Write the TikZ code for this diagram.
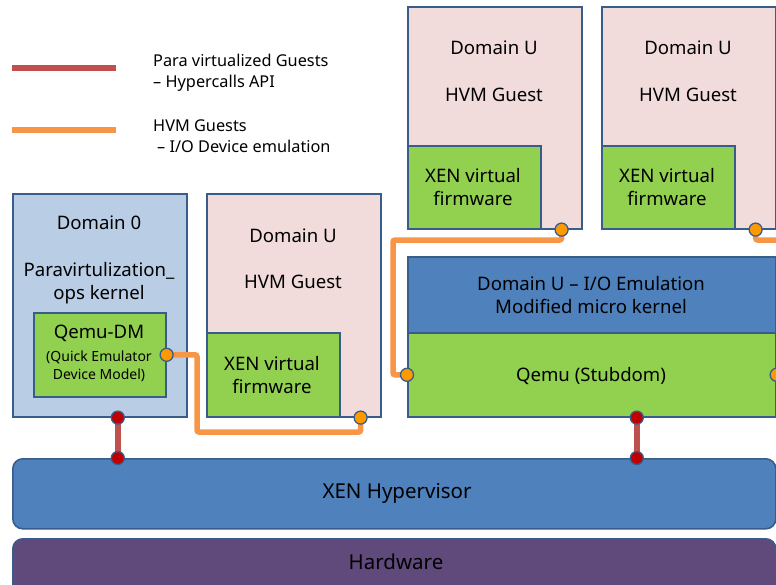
\documentclass[tikz,border=0pt]{standalone}
\usepackage{fontspec}
\setmainfont{Noto Sans}
\usepackage{xcolor}
\usetikzlibrary{positioning}

\definecolor{edgeblue}{HTML}{385D8A}
\definecolor{domzero}{HTML}{B9CDE5}
\definecolor{domguest}{HTML}{F2DCDB}
\definecolor{fwgreen}{HTML}{92D050}
\definecolor{layerblue}{HTML}{4F81BD}
\definecolor{hwpurple}{HTML}{604A7B}
\definecolor{pvred}{HTML}{C0504D}
\definecolor{hvmorange}{HTML}{F79646}
\definecolor{dotred}{HTML}{C00000}
\definecolor{dotorange}{HTML}{FF9900}

\begin{document}
\begin{tikzpicture}[x=1pt,y=-1pt,
		box/.style={draw=edgeblue,line width=1.6pt,anchor=north west,inner sep=0pt},
		lbl/.style={font=\fontsize{18.6}{23}\selectfont,align=center,inner sep=0pt},
		small/.style={font=\fontsize{14}{18}\selectfont,align=center,inner sep=0pt},
		legend/.style={font=\fontsize{16.3}{21}\selectfont,align=left,anchor=west,inner sep=0pt},
		key/.style={minimum width=104pt,minimum height=6pt,inner sep=0pt},
		pvline/.style={draw=pvred,line width=5.5pt},
		hvmline/.style={draw=hvmorange,line width=5.5pt,rounded corners=2pt},
		pvdot/.style={circle,fill=dotred,draw=edgeblue,line width=1.3pt,minimum size=13pt,inner sep=0pt},
		hvmdot/.style={circle,fill=dotorange,draw=edgeblue,line width=1.3pt,minimum size=13pt,inner sep=0pt}]
	\useasboundingbox[fill=white] (0,0) rectangle (776,584);
	\clip (0,0) rectangle (776,584);

	\node[key,fill=pvred] (pvkey) at (64,68) {};
	\node[key,fill=hvmorange] (hvmkey) at (64,130) {};
	\node[legend] (pvtext) at (153,73) {Para virtualized Guests\\– Hypercalls API};
	\node[legend] (hvmtext) at (153,136) {HVM Guests\\\hspace{4pt}– I/O Device emulation};

	\node[box,fill=domzero,minimum width=174pt,minimum height=223pt] (dom0) at (12,193) {};
	\node[box,fill=fwgreen,minimum width=132pt,minimum height=84pt] (qdm) at (33,312) {};
	\node[lbl] (dom0title) at (99,223) {Domain 0};
	\node[lbl] (dom0kern) at (99,283) {Paravirtulization\_\\ops kernel};
	\node[lbl] (qdmtitle) at (99,333) {Qemu-DM};
	\node[small] (qdmsub) at (99,366) {(Quick Emulator\\Device Model)};

	\node[box,fill=domguest,minimum width=174pt,minimum height=223pt] (domu1) at (206,193) {};
	\node[box,fill=fwgreen,minimum width=133pt,minimum height=84pt] (fw1) at (206,332) {};
	\node[lbl] (domu1title) at (293,236) {Domain U};
	\node[lbl] (domu1hvm) at (293,282) {HVM Guest};
	\node[lbl] (fw1text) at (272,375) {XEN virtual\\firmware};

	\node[box,fill=domguest,minimum width=174pt,minimum height=222pt] (domu2) at (407,6) {};
	\node[box,fill=fwgreen,minimum width=133pt,minimum height=83pt] (fw2) at (407,145) {};
	\node[lbl] (domu2title) at (494,48) {Domain U};
	\node[lbl] (domu2hvm) at (494,95) {HVM Guest};
	\node[lbl] (fw2text) at (473,187) {XEN virtual\\firmware};

	\node[box,fill=domguest,minimum width=174pt,minimum height=222pt] (domu3) at (601,6) {};
	\node[box,fill=fwgreen,minimum width=133pt,minimum height=83pt] (fw3) at (601,145) {};
	\node[lbl] (domu3title) at (688,48) {Domain U};
	\node[lbl] (domu3hvm) at (688,95) {HVM Guest};
	\node[lbl] (fw3text) at (667,187) {XEN virtual\\firmware};

	\node[box,fill=layerblue,minimum width=368pt,minimum height=76pt] (stubkern) at (407,256) {};
	\node[box,fill=fwgreen,minimum width=368pt,minimum height=84pt] (qstub) at (407,332) {};
	\node[lbl] (stubtitle) at (591,295) {Domain U – I/O Emulation\\Modified micro kernel};
	\node[lbl] (qstubtext) at (591,376) {Qemu (Stubdom)};

	\node[box,fill=layerblue,rounded corners=10pt,minimum width=763pt,minimum height=70pt] (hyp) at (12,458) {};
	\node[box,fill=hwpurple,rounded corners=10pt,minimum width=763pt,minimum height=62pt] (hw) at (12,538) {};
	\node[lbl,font=\fontsize{20.5}{23}\selectfont] (hyptext) at (397,493) {XEN Hypervisor};
	\node[lbl,font=\fontsize{20.5}{23}\selectfont] (hwtext) at (396,562) {Hardware};

	\coordinate (pq) at (qdm.east);
	\coordinate (pfw1) at ([xshift=-21pt]domu1.south east);
	\coordinate (pfw2) at ([xshift=-21pt]domu2.south east);
	\coordinate (pfw3) at ([xshift=-21pt]domu3.south east);
	\coordinate (pqsl) at (qstub.west);
	\coordinate (pqsr) at (qstub.east);
	\coordinate (pd0) at ([xshift=18pt]dom0.south);
	\coordinate (pst) at ([xshift=45pt]qstub.south);
	\coordinate (ph1) at (pd0 |- hyp.north);
	\coordinate (ph2) at (pst |- hyp.north);
	\coordinate (poff) at (800,240);

	\draw[hvmline] (pq) -| (197,432) -| (pfw1);
	\draw[hvmline] (pfw2) |- (393,240) |- (pqsl);
	\draw[hvmline] (pfw3) |- (poff);
	\draw[pvline] (pd0) -- (ph1);
	\draw[pvline] (pst) -- (ph2);

	\node[hvmdot] (dq) at (pq) {};
	\node[hvmdot] (dfw1) at (pfw1) {};
	\node[hvmdot] (dfw2) at (pfw2) {};
	\node[hvmdot] (dfw3) at (pfw3) {};
	\node[hvmdot] (dqsl) at (pqsl) {};
	\node[hvmdot] (dqsr) at (pqsr) {};
	\node[pvdot] (dd0) at (pd0) {};
	\node[pvdot] (dst) at (pst) {};
	\node[pvdot] (dh1) at (ph1) {};
	\node[pvdot] (dh2) at (ph2) {};
\end{tikzpicture}
\end{document}
